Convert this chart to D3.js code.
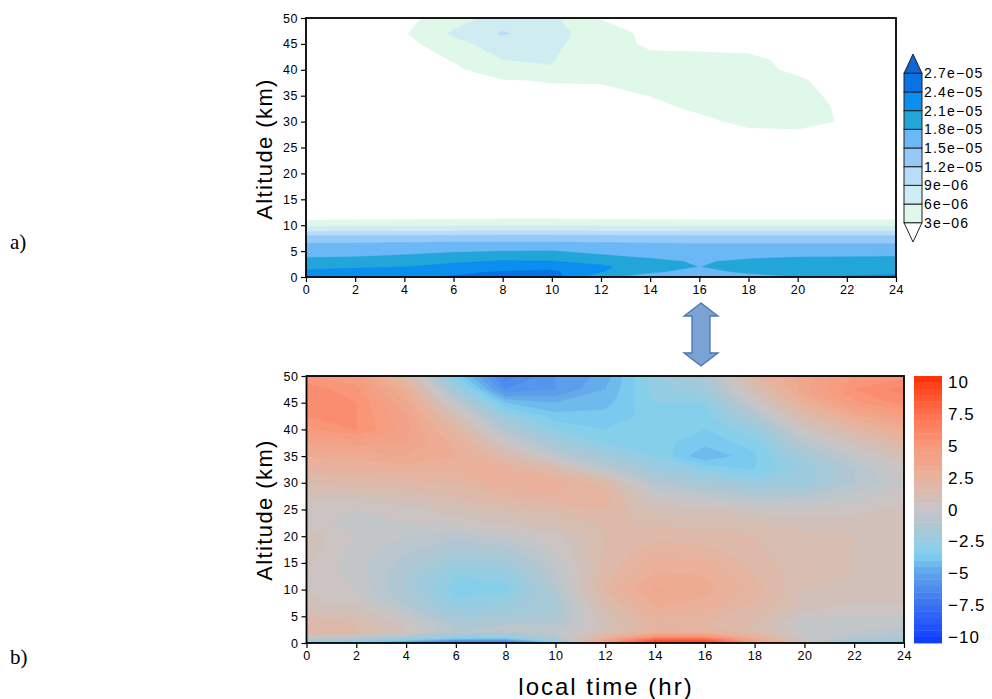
<!DOCTYPE html>
<html><head><meta charset="utf-8">
<script src="https://cdn.jsdelivr.net/npm/d3@7"></script>
<style>
body{margin:0;background:#fff}
svg{display:block}
text{fill:#000}
</style>
</head><body>
<svg id="c" width="992" height="699"></svg>
<script>
// ---------- shared axes ----------
const hours = [0,2,4,6,8,10,12,14,16,18,20,22,24];
const hourTicks = [0,2,4,6,8,10,12,14,16,18,20,22,24];
const altTicks = [0,5,10,15,20,25,30,35,40,45,50];

// ---------- panel a) : values in units of 1e-6 ----------
const topAlt = [0,1,2,3,4,5,6,7,8,9,10,11,12,15,20,25,28,30,33,35,38,40,42,45,47,50];
const topField = [
 [23.0,23.3,23.6,24.2,25.5,25.5,18.5,17.0,16.5,17.2,17.9,21.3,21.8],
 [21.6,22.0,22.6,23.5,24.2,24.6,21.2,18.3,17.3,18.4,19.5,20.0,20.3],
 [20.3,20.6,21.0,21.9,22.6,23.0,21.6,19.2,17.95,18.9,19.6,19.7,19.8],
 [19.0,19.3,19.8,20.6,21.3,21.2,20.0,18.9,17.6,18.8,19.3,19.4,19.5],
 [17.7,17.9,18.3,19.2,19.9,19.8,18.4,17.5,16.8,17.3,17.8,17.9,18.0],
 [16.6,16.8,17.2,17.7,18.0,18.1,17.2,16.7,16.3,16.4,16.5,16.5,16.5],
 [15.7,15.8,16.0,16.3,16.4,16.4,16.0,15.8,15.6,15.6,15.6,15.6,15.6],
 [14.4,14.4,14.5,14.6,14.6,14.6,14.5,14.4,14.3,14.3,14.3,14.3,14.3],
 [12.0,12.1,12.2,12.3,12.4,12.4,12.3,12.2,12.0,12.0,12.0,12.0,12.0],
 [8.2,8.3,8.4,8.6,8.7,8.7,8.6,8.5,8.3,8.3,8.3,8.3,8.3],
 [5.3,5.4,5.5,5.7,5.8,5.8,5.7,5.6,5.5,5.4,5.4,5.4,5.4],
 [3.0,3.1,3.2,3.3,3.4,3.4,3.3,3.2,3.1,3.1,3.1,3.1,3.1],
 [1.5,1.5,1.5,1.6,1.6,1.6,1.6,1.5,1.5,1.5,1.5,1.5,1.5],
 [1.0,1.0,1.0,1.0,1.0,1.0,1.0,1.0,1.0,1.0,1.0,1.0,1.0],
 [0.8,0.8,0.8,0.8,0.8,0.8,0.8,0.8,0.8,0.8,0.8,0.8,0.8],
 [1.0,1.0,1.0,1.0,1.2,1.4,1.6,1.8,2.0,2.2,2.2,1.8,1.2],
 [1.0,1.0,1.0,1.0,1.3,1.5,1.8,2.0,2.4,2.8,2.9,2.4,1.2],
 [1.0,1.0,1.0,1.0,1.5,1.8,2.0,2.4,2.7,3.3,3.3,2.9,1.2],
 [1.0,1.0,1.0,1.2,1.8,2.0,2.3,2.7,3.3,3.4,3.4,2.8,1.2],
 [1.0,1.0,1.0,1.5,2.2,2.6,2.7,3.02,3.4,3.4,3.4,2.6,1.2],
 [1.0,1.0,1.0,2.0,2.9,3.1,3.1,3.4,3.4,3.4,3.2,2.3,1.2],
 [1.0,1.0,1.2,2.5,4.5,5.8,3.5,3.5,3.5,3.5,2.7,2.2,1.2],
 [1.0,1.0,1.5,3.2,6.0,6.2,3.6,3.4,3.4,3.3,2.6,1.8,1.0],
 [1.0,1.2,2.0,5.0,7.5,6.8,3.8,2.7,2.6,2.5,2.0,1.3,1.0],
 [1.0,1.5,2.7,6.5,9.3,7.5,3.8,2.6,2.4,2.2,1.8,1.4,1.1],
 [1.0,1.5,2.2,4.5,7.5,6.5,2.9,2.0,1.5,1.5,1.2,1.0,1.0]
];
const topLevels = [3,6,9,12,15,18,21,24,27];
const topLevelLabels = ["3e\u221206","6e\u221206","9e\u221206","1.2e\u221205","1.5e\u221205","1.8e\u221205","2.1e\u221205","2.4e\u221205","2.7e\u221205"];
const topColors = ["#ffffff","#dff8ea","#ceecf1","#b9dcf8","#95c9f8","#6cb7f6","#22a6da","#0a8ff0","#0872e6","#0f66d8"];

// ---------- panel b) ----------
const botAlt = [0,0.5,1,2,3.5,5,7.5,10,12.5,15,17.5,20,22.5,25,27.5,30,32.5,35,37.5,40,42.5,45,47.5,50];
const botField = [
 [-3.0,-4.0,-5.5,-7.5,-7.5,-3.5,4.5,10.0,10.0,4.5,0.5,-2.5,-3.0],
 [-1.5,-2.5,-3.8,-5.5,-5.5,-2.5,4.0,8.5,8.5,4.0,0.3,-2.0,-2.4],
 [0.0,-0.5,-1.5,-2.5,-2.8,-1.0,2.5,6.0,6.0,2.8,0.0,-1.0,-1.4],
 [1.8,1.5,0.5,-1.0,-1.0,-0.5,1.0,2.6,2.5,1.5,0.0,-0.5,-0.8],
 [2.0,1.5,0.3,-1.2,-1.0,-1.0,0.8,2.3,2.0,1.4,-0.4,-0.3,-0.4],
 [1.2,1.0,-0.2,-2.0,-1.8,-1.5,1.0,2.6,2.2,1.6,0.3,0.0,0.0],
 [0.6,0.3,-1.2,-2.8,-2.5,-1.5,1.5,3.2,2.8,2.0,0.8,0.5,0.5],
 [0.5,0.0,-1.6,-3.3,-3.2,-1.0,2.0,3.6,3.2,2.2,1.0,0.9,0.8],
 [0.5,-0.2,-1.5,-3.0,-2.8,-0.7,1.8,3.1,3.0,2.0,1.1,1.0,0.9],
 [0.6,-0.3,-1.2,-2.2,-2.0,-0.3,1.6,2.7,2.6,1.8,1.1,1.0,0.9],
 [0.8,-0.2,-0.8,-1.5,-1.2,0.0,1.5,2.3,2.1,1.6,1.1,1.0,0.9],
 [0.8,0.0,-0.5,-0.8,-0.2,0.3,1.5,1.8,1.7,1.5,1.1,1.0,0.8],
 [0.3,-0.3,0.0,0.2,0.6,1.0,1.6,1.4,1.2,1.0,0.8,0.8,0.8],
 [0.0,0.0,0.3,0.8,1.2,1.6,2.0,0.8,0.6,0.3,0.0,0.3,0.6],
 [0.8,0.8,1.0,1.5,2.0,2.4,2.3,0.0,-0.5,-1.0,-1.0,-0.3,0.3],
 [1.4,1.6,1.8,2.0,2.8,2.8,1.6,-1.0,-1.8,-2.5,-2.2,-1.0,0.0],
 [2.2,2.4,2.6,2.5,2.5,1.5,-0.5,-2.2,-3.0,-3.5,-2.4,-1.0,0.3],
 [3.0,3.2,3.5,3.0,1.5,-0.5,-2.0,-3.0,-4.5,-3.6,-1.8,-0.3,1.0],
 [4.0,4.2,4.0,2.8,0.2,-1.8,-3.0,-3.3,-3.8,-3.3,-0.8,0.6,2.0],
 [4.8,5.5,4.2,2.0,-1.2,-3.0,-3.5,-3.5,-3.5,-2.5,0.3,1.8,3.2],
 [5.5,5.5,4.0,1.0,-2.5,-3.8,-3.8,-3.3,-3.3,-1.2,1.5,3.2,4.5],
 [6.0,5.5,3.5,-0.5,-4.0,-4.5,-4.2,-3.0,-3.0,0.0,2.8,4.8,5.7],
 [5.8,5.2,2.8,-2.0,-6.0,-5.5,-4.5,-2.8,-2.0,1.0,3.8,5.5,6.2],
 [5.0,4.5,1.5,-3.5,-6.8,-5.5,-4.8,-2.5,-1.5,2.0,3.8,5.0,5.3]
];
const botTicks = [-10,-7.5,-5,-2.5,0,2.5,5,7.5,10];
const botTickLabels = ["\u221210","\u22127.5","\u22125","\u22122.5","0","2.5","5","7.5","10"];
const cmapStops = [-10.5,-10,-7.5,-5,-3.5,-2.5,-1,0,1,2.5,5,7.5,10,10.5];
const cmapColors = ["#0a38ff","#1444ff","#3c72f0","#5ea4ec","#80d0ee","#98cce0","#b4c6d0","#c8c6c6","#d4beb4","#e8b29c","#f89a7c","#ff7050","#ff3c14","#ff2a00"];

// ---------- drawing ----------
const SANS = "'Liberation Sans',Arial,sans-serif";
const SERIF = "'Liberation Serif','Times New Roman',serif";
const svg = d3.select("#c");
const cmap = d3.scaleLinear().domain(cmapStops).range(cmapColors).interpolate(d3.interpolateRgb).clamp(true);

function fieldPlot(id, field, alts, x, y, thresholds, fill, bg) {
  const nx = hours.length, ny = alts.length;
  const values = field.flat();
  const ix = d3.scaleLinear().domain(d3.range(nx)).range(hours).clamp(true);
  const iy = d3.scaleLinear().domain(d3.range(ny)).range(alts).clamp(true);
  const proj = d3.geoTransform({point(px, py){ this.stream.point(x(ix(px - 0.5)), y(iy(py - 0.5))); }});
  const path = d3.geoPath(proj);
  const [x0, x1] = x.range(), [y0, y1] = y.range();
  svg.append("clipPath").attr("id", id).append("rect")
    .attr("x", x0).attr("y", y1).attr("width", x1 - x0).attr("height", y0 - y1);
  const g = svg.append("g").attr("clip-path", `url(#${id})`);
  g.append("rect").attr("x", x0).attr("y", y1).attr("width", x1 - x0).attr("height", y0 - y1).attr("fill", bg);
  const contours = d3.contours().size([nx, ny]).thresholds(thresholds)(values);
  g.selectAll("path").data(contours).join("path")
    .attr("d", path).attr("fill", d => fill(d.value))
    .attr("stroke", d => fill(d.value)).attr("stroke-width", 0.3);
}

function frameAndAxes(x, y, fs) {
  const [x0, x1] = x.range(), [y0, y1] = y.range();
  const ax = svg.append("g").attr("transform", `translate(0,${y0})`)
    .call(d3.axisBottom(x).tickValues(hourTicks).tickSize(5).tickPadding(3).tickFormat(d3.format("d")));
  const ay = svg.append("g").attr("transform", `translate(${x0},0)`)
    .call(d3.axisLeft(y).tickValues(altTicks).tickSize(5).tickPadding(3).tickFormat(d3.format("d")));
  [ax, ay].forEach(a => {
    a.select(".domain").remove();
    a.selectAll(".tick line").attr("stroke", "#000").attr("stroke-width", 1.2);
    a.selectAll(".tick text").style("font-family", SANS)
      .attr("font-size", fs).attr("fill", "#000").attr("letter-spacing", 0.5);
  });
  svg.append("rect").attr("x", x0).attr("y", y1).attr("width", x1 - x0).attr("height", y0 - y1)
    .attr("fill", "none").attr("stroke", "#000").attr("stroke-width", 1.8);
}

// panel a
const xA = d3.scaleLinear().domain([0, 24]).range([306, 896]);
const yA = d3.scaleLinear().domain([0, 50]).range([277, 18]);
fieldPlot("clipA", topField, topAlt, xA, yA, topLevels, v => topColors[topLevels.indexOf(v) + 1], topColors[0]);
frameAndAxes(xA, yA, 12.5);
svg.append("text").attr("transform", "translate(272,149) rotate(-90)").style("font-family", SANS)
  .attr("text-anchor", "middle").attr("font-size", 22).attr("letter-spacing", 1.4).text("Altitude (km)");

// legend a
const lgY = d3.scalePoint().domain(topLevels).range([222.7, 73.3]);
const lgX0 = 904, lgX1 = 922;
const lg = svg.append("g");
lg.append("path").attr("d", `M${lgX0},${lgY(27)}L${(lgX0 + lgX1) / 2},54L${lgX1},${lgY(27)}Z`)
  .attr("fill", topColors[9]).attr("stroke", "#222").attr("stroke-width", 1);
lg.append("path").attr("d", `M${lgX0},${lgY(3)}L${(lgX0 + lgX1) / 2},242L${lgX1},${lgY(3)}Z`)
  .attr("fill", topColors[0]).attr("stroke", "#222").attr("stroke-width", 1);
topLevels.slice(0, -1).forEach((lv, i) => {
  const yTop = lgY(topLevels[i + 1]), yBot = lgY(lv);
  lg.append("rect").attr("x", lgX0).attr("y", yTop).attr("width", lgX1 - lgX0).attr("height", yBot - yTop)
    .attr("fill", topColors[i + 1]).attr("stroke", "#222").attr("stroke-width", 1);
});
lg.selectAll("text.lab").data(topLevels).join("text").style("font-family", SANS)
  .attr("x", 924).attr("y", d => lgY(d)).attr("dy", "0.36em")
  .attr("font-size", 14).attr("letter-spacing", 1.2).text((d, i) => topLevelLabels[i]);

// arrow between panels
const arrowX = 701, aw = 17, sw = 9, aTop = 303, aBot = 366, ah = 13;
svg.append("path")
  .attr("d", `M${arrowX},${aTop}L${arrowX + aw},${aTop + ah}L${arrowX + sw},${aTop + ah}L${arrowX + sw},${aBot - ah}L${arrowX + aw},${aBot - ah}L${arrowX},${aBot}L${arrowX - aw},${aBot - ah}L${arrowX - sw},${aBot - ah}L${arrowX - sw},${aTop + ah}L${arrowX - aw},${aTop + ah}Z`)
  .attr("fill", "#7aa2d2").attr("stroke", "#4a74b2").attr("stroke-width", 1.3);

// panel b
const xB = d3.scaleLinear().domain([0, 24]).range([306.5, 904]);
const yB = d3.scaleLinear().domain([0, 50]).range([643, 376]);
fieldPlot("clipB", botField, botAlt, xB, yB, d3.range(-10.5, 10.5, 0.5), v => cmap(v + 0.25), cmap(-10.5));
frameAndAxes(xB, yB, 12.5);
svg.append("text").attr("transform", "translate(272,510) rotate(-90)").style("font-family", SANS)
  .attr("text-anchor", "middle").attr("font-size", 22).attr("letter-spacing", 1.4).text("Altitude (km)");
svg.append("text").attr("x", 606).attr("y", 695).attr("text-anchor", "middle").style("font-family", SANS)
  .attr("font-size", 24).attr("letter-spacing", 2).text("local time (hr)");

// colorbar b
const cbY = d3.scaleLinear().domain([-10.5, 10.5]).range([643, 376]);
const cb = svg.append("g");
cb.selectAll("rect").data(d3.range(-10.5, 10.5, 0.5)).join("rect")
  .attr("x", 914).attr("width", 28)
  .attr("y", d => cbY(d + 0.5)).attr("height", d => cbY(d) - cbY(d + 0.5) + 0.4)
  .attr("fill", d => cmap(d + 0.25));
cb.selectAll("text").data(botTicks).join("text").style("font-family", SANS)
  .attr("x", 948).attr("y", d => cbY(d)).attr("dy", "0.36em")
  .attr("font-size", 17).attr("letter-spacing", 1).text((d, i) => botTickLabels[i]);

// panel letters
svg.append("text").attr("x", 10).attr("y", 249).style("font-family", SERIF)
  .attr("font-size", 21).text("a)");
svg.append("text").attr("x", 10).attr("y", 664).style("font-family", SERIF)
  .attr("font-size", 21).text("b)");
</script>
</body></html>
